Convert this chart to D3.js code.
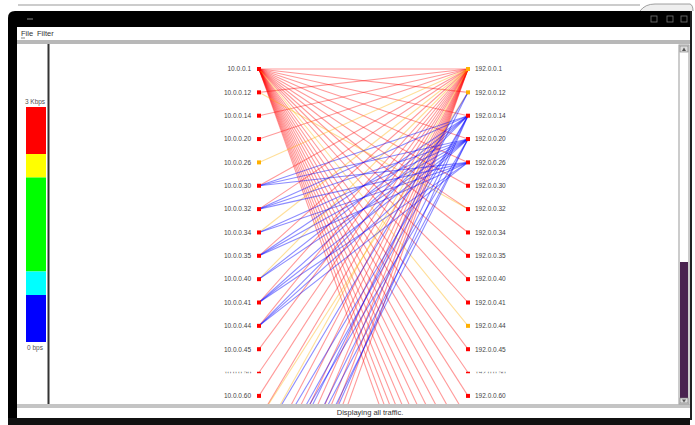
<!DOCTYPE html>
<html><head><meta charset="utf-8">
<script src="https://cdn.jsdelivr.net/npm/d3@7"></script>
<style>html,body{margin:0;padding:0;background:#fff;overflow:hidden}svg{display:block}</style>
</head><body><svg id="c" width="695" height="425"></svg>
<script>
// ---------- data ----------
const leftHosts = ["10.0.0.1","10.0.0.12","10.0.0.14","10.0.0.20","10.0.0.26","10.0.0.30","10.0.0.32","10.0.0.34","10.0.0.35","10.0.0.40","10.0.0.41","10.0.0.44","10.0.0.45","10.0.0.50","10.0.0.60","10.0.0.61","10.0.0.62","10.0.0.63","10.0.0.64","10.0.0.65","10.0.0.66","10.0.0.67","10.0.0.68","10.0.0.69","10.0.0.70","10.0.0.71"];
const rightHosts = ["192.0.0.1","192.0.0.12","192.0.0.14","192.0.0.20","192.0.0.26","192.0.0.30","192.0.0.32","192.0.0.34","192.0.0.35","192.0.0.40","192.0.0.41","192.0.0.44","192.0.0.45","192.0.0.50","192.0.0.60","192.0.0.61","192.0.0.62","192.0.0.63","192.0.0.64","192.0.0.65","192.0.0.66","192.0.0.67","192.0.0.68","192.0.0.69","192.0.0.70","192.0.0.71"];
// node colour rate (bps) per host
const leftRate  = [2800,2800,2800,2800,2200,2800,2800,2800,2800,2800,2800,2800,2800,2800,2800,2800,2800,2800,2800,2800,2800,2800,2800,2800,2800,2800];
const rightRate = [2200,2200,2800,2800,2800,2800,2800,2800,2800,2800,2800,2200,2800,2800,2800,2800,2800,2800,2800,2800,2800,2800,2800,2800,2800,2800];
// links: source (left index), destination (right index), rate in bps
const linkSrc  = [0,0,0,0,0,0,0,0,0,0,0,0,0,0,0,0,0,0,0,0,0,0,0,0,0,0,
                  1,2,3,4,5,6,7,8,9,10,11,12,13,14,15,16,17,18,19,20,21,22,23,24,25,
                  1,15,
                  5,5,5,6,6,6,7,7,8,8,8,9,9,10,10,10,11,11,11,
                  16,17,18,18,19,20,20,21,22];
const linkDst  = [0,1,2,3,4,5,6,7,8,9,10,11,12,13,14,15,16,17,18,19,20,21,22,23,24,25,
                  0,0,0,0,0,0,0,0,0,0,0,0,0,0,0,0,0,0,0,0,0,0,0,0,0,
                  6,1,
                  2,3,4,2,3,4,3,4,2,3,4,2,3,2,3,4,2,3,4,
                  1,2,2,3,1,2,3,3,2];
const linkRate = [2700,2800,2800,2800,2800,2800,2800,2800,2800,2800,2800,2200,2800,2800,2800,2800,2800,2800,2800,2800,2800,2800,2800,2800,2800,2800,
                  2800,2800,2800,2200,2800,2800,2200,2800,2200,2800,2800,2800,2800,2800,2800,2200,2800,2800,2800,2800,2800,2800,2800,2800,2800,
                  2200,2200,
                  300,300,300,300,300,300,300,300,300,300,300,300,300,300,300,300,300,300,300,
                  300,300,300,300,300,300,300,300,300];
const legendStops  = [3000,2400,2100,900,600,0];
const legendColors = ["#ff0000","#ffff00","#00ff00","#00ffff","#0000ff"];
const legendLabels = ["3 Kbps","0 bps"];
const menuItems = ["File","Filter"];
const statusText = "Displaying all traffic.";

// ---------- drawing ----------
const svg = d3.select("#c");
const font = "Liberation Sans, Arial, sans-serif";

// window frame
svg.append("rect").attr("x",0).attr("y",0).attr("width",695).attr("height",425).attr("fill","#fff");
svg.append("line").attr("x1",18).attr("x2",640).attr("y1",5).attr("y2",5).attr("stroke","#999").attr("stroke-width",1);
svg.append("path").attr("d","M8,420 L8,18 Q8,11 15,11 L693,11 L693,420 Z").attr("fill","#000");
svg.append("rect").attr("x",17).attr("y",27).attr("width",673).attr("height",391).attr("fill","#fff");
// title bar glyphs
svg.append("line").attr("x1",27).attr("x2",33).attr("y1",19).attr("y2",19).attr("stroke","#888").attr("stroke-width",1);
[654,670,684].forEach(cx=>{
  svg.append("rect").attr("x",cx-3).attr("y",16).attr("width",6).attr("height",6).attr("fill","none").attr("stroke","#777").attr("stroke-width",0.8);
});
svg.append("path").attr("d","M640,11 Q645,4 655,4 L690,4 Q693,5 693,11").attr("fill","#eee").attr("stroke","#888").attr("stroke-width",0.8);
// menu
menuItems.forEach((m,i)=>{
  svg.append("text").attr("x",[21,37][i]).attr("y",36).attr("font-family",font).attr("font-size",7.5).attr("fill","#333").text(m);
});
svg.append("line").attr("x1",21).attr("x2",25).attr("y1",38).attr("y2",38).attr("stroke","#333").attr("stroke-width",0.6);
svg.append("rect").attr("x",17).attr("y",40).attr("width",673).attr("height",4).attr("fill","#b8b8b8");
// left panel separator
svg.append("rect").attr("x",47.5).attr("y",44).attr("width",2).attr("height",361).attr("fill","#333");
// bottom status bar
svg.append("rect").attr("x",17).attr("y",404).attr("width",673).attr("height",4).attr("fill","#c4c4c4");
svg.append("text").attr("x",370).attr("y",415).attr("text-anchor","middle").attr("font-family",font).attr("font-size",7.5).attr("fill","#333").text(statusText);
svg.append("rect").attr("x",8).attr("y",418).attr("width",687).attr("height",7).attr("fill","#111");
svg.append("rect").attr("x",690).attr("y",11).attr("width",5).attr("height",414).attr("fill","#fff");
svg.append("rect").attr("x",690).attr("y",11).attr("width",2).attr("height",409).attr("fill","#222");

// scrollbar
svg.append("rect").attr("x",679).attr("y",45).attr("width",10).attr("height",359).attr("fill","#fff").attr("stroke","#999").attr("stroke-width",1);
svg.append("rect").attr("x",680).attr("y",46).attr("width",8).attr("height",6).attr("fill","#ddd").attr("stroke","#777").attr("stroke-width",0.6);
svg.append("path").attr("d","M682,51 L684,47.5 L686,51 Z").attr("fill","#555");
svg.append("rect").attr("x",680).attr("y",262).attr("width",8).attr("height",136).attr("fill","#4a2350");
svg.append("rect").attr("x",680).attr("y",398).attr("width",8).attr("height",5).attr("fill","#ddd").attr("stroke","#777").attr("stroke-width",0.6);
svg.append("path").attr("d","M682,399.5 L684,402.5 L686,399.5 Z").attr("fill","#555");

// legend
const ly = d3.scaleLinear().domain([0,3000]).range([342,107]);
legendColors.forEach((c,i)=>{
  svg.append("rect").attr("x",26).attr("y",ly(legendStops[i])).attr("width",20)
     .attr("height",ly(legendStops[i+1])-ly(legendStops[i])).attr("fill",c);
});
svg.append("text").attr("x",35).attr("y",ly(3000)-3).attr("text-anchor","middle").attr("font-family",font).attr("font-size",6.5).attr("fill","#555").text(legendLabels[0]);
svg.append("text").attr("x",35).attr("y",ly(0)+8).attr("text-anchor","middle").attr("font-family",font).attr("font-size",6.5).attr("fill","#555").text(legendLabels[1]);

// main graph
const color = d3.scaleThreshold().domain([600,900,2100,2400]).range(["#0000ff","#00e0e0","#00cc00","#ffb000","#ff0000"]);
const side = d3.scalePoint().domain(["src","dst"]).range([259,468]);
const yL = d3.scalePoint().domain(d3.range(leftHosts.length)).range([69, 69 + 23.35*(leftHosts.length-1)]);
const yR = d3.scalePoint().domain(d3.range(rightHosts.length)).range([69, 69 + 23.35*(rightHosts.length-1)]);

svg.append("clipPath").attr("id","main").append("rect").attr("x",50).attr("y",44).attr("width",628).attr("height",360);
const g = svg.append("g").attr("clip-path","url(#main)");

const links = linkSrc.map((s,i)=>({s, d:linkDst[i], r:linkRate[i]}));
const order = r => r>=2400 ? 0 : (r>=2100 ? 1 : 2);
links.sort((a,b)=>order(a.r)-order(b.r));
g.append("g").selectAll("line").data(links).join("line")
  .attr("x1",side("src")).attr("y1",d=>yL(d.s))
  .attr("x2",side("dst")).attr("y2",d=>yR(d.d))
  .attr("stroke",d=>color(d.r)).attr("stroke-width",1.1)
  .attr("stroke-opacity",d=>d.r<600?0.45:0.4);

// partially obscured row
svg.append("clipPath").attr("id","row13").append("rect").attr("x",50).attr("y",yL(13)-0.8).attr("width",628).attr("height",1.6);

function drawNodes(hosts, rates, yS, x, anchor, dx){
  hosts.forEach((h,i)=>{
    if (yS(i) > 400) return; // scrolled out of view
    const grp = g.append("g");
    if(i===13) grp.attr("clip-path","url(#row13)");
    grp.append("rect").attr("x",x-2).attr("y",yS(i)-2).attr("width",4).attr("height",4).attr("fill",color(rates[i]));
    grp.append("text").attr("x",x+dx).attr("y",yS(i)+2.3).attr("text-anchor",anchor)
      .attr("font-family",font).attr("font-size",6.5).attr("fill","#444").text(h);
  });
}
drawNodes(leftHosts, leftRate, yL, side("src"), "end", -8);
drawNodes(rightHosts, rightRate, yR, side("dst"), "start", 7);
</script></body></html>
